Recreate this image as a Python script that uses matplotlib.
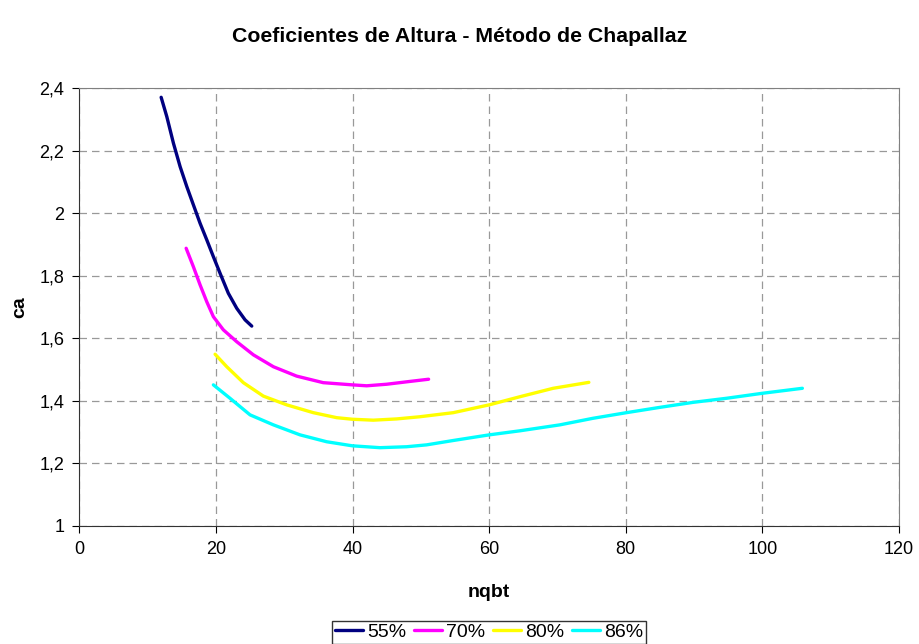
import numpy as np
import matplotlib.pyplot as plt
from matplotlib.ticker import FixedLocator, FixedFormatter

plt.rcParams['font.family'] = ['Liberation Sans', 'DejaVu Sans']

# Curves (nqbt, ca)
nq_55 = [11.96, 12.79, 13.76, 14.74, 15.72, 16.68, 17.66, 18.64, 19.61, 20.59,
         21.8, 23.03, 24.25, 25.23]
ca_55 = [2.371, 2.309, 2.224, 2.149, 2.085, 2.027, 1.968, 1.915, 1.861, 1.808,
         1.744, 1.696, 1.659, 1.639]

nq_70 = [15.62, 16.68, 17.66, 18.64, 19.61, 21.07, 23.03, 25.47, 28.4, 31.8,
         35.7, 39.95, 42.06, 44.99, 48.4, 51.13]
ca_70 = [1.888, 1.829, 1.771, 1.717, 1.669, 1.627, 1.589, 1.547, 1.509, 1.479,
         1.458, 1.451, 1.448, 1.453, 1.462, 1.469]

nq_80 = [19.86, 21.57, 24.0, 26.93, 30.35, 34.25, 37.67, 39.95, 43.03, 46.45,
         49.86, 54.74, 60.0, 64.5, 69.37, 74.6]
ca_80 = [1.549, 1.509, 1.458, 1.415, 1.387, 1.362, 1.346, 1.341, 1.338, 1.342,
         1.349, 1.362, 1.387, 1.413, 1.44, 1.459]

nq_86 = [19.61, 22.05, 24.98, 28.4, 32.3, 36.2, 39.95, 44.0, 47.9, 50.84,
         54.74, 60.0, 64.5, 70.35, 75.2, 80.1, 85.0, 89.86, 94.74, 100.0, 105.87]
ca_86 = [1.451, 1.408, 1.355, 1.323, 1.291, 1.269, 1.256, 1.25, 1.253, 1.259,
         1.273, 1.291, 1.304, 1.323, 1.344, 1.362, 1.379, 1.395, 1.408, 1.424, 1.44]

series_labels = ['55%', '70%', '80%', '86%']
series_colors = ['#000080', '#FF00FF', '#FFFF00', '#00FFFF']

x_ticks = [0, 20, 40, 60, 80, 100, 120]
y_ticks = [1.0, 1.2, 1.4, 1.6, 1.8, 2.0, 2.2, 2.4]
y_tick_labels = ['1', '1,2', '1,4', '1,6', '1,8', '2', '2,2', '2,4']

fig = plt.figure(figsize=(9.2, 6.44), dpi=100)
ax = fig.add_axes([0.0864, 0.1835, 0.8906, 0.6795])

curves = [(nq_55, ca_55), (nq_70, ca_70), (nq_80, ca_80), (nq_86, ca_86)]
for (xs, ys), lab, col in zip(curves, series_labels, series_colors):
    ax.plot(xs, ys, color=col, linewidth=2.4, label=lab,
            solid_capstyle='round', solid_joinstyle='round')

ax.set_xlim(0, 120)
ax.set_ylim(1, 2.4)
ax.xaxis.set_major_locator(FixedLocator(x_ticks))
ax.yaxis.set_major_locator(FixedLocator(y_ticks))
ax.yaxis.set_major_formatter(FixedFormatter(y_tick_labels))

ax.grid(True, color='#999999', linestyle=(0, (6, 4)), linewidth=0.9)
ax.set_axisbelow(True)
for side in ['top', 'right']:
    ax.spines[side].set_color('#808080')
for side in ['left', 'bottom']:
    ax.spines[side].set_color('#333333')
ax.tick_params(direction='out', length=5, labelsize=13, pad=6)

ax.set_xlabel('nqbt', fontsize=14, fontweight='bold', labelpad=19)
ax.set_ylabel('ca', fontsize=14, fontweight='bold', labelpad=8)
fig.suptitle('Coeficientes de Altura - Método de Chapallaz',
             fontsize=15.3, fontweight='bold', y=0.958)

leg = fig.legend(loc='lower center', bbox_to_anchor=(0.5315, 0.0), ncol=4,
                 fontsize=14, frameon=True, fancybox=False, edgecolor='black',
                 handlelength=1.45, handletextpad=0.2, columnspacing=0.4,
                 borderpad=0.15, borderaxespad=0.0)
leg.get_frame().set_linewidth(1.0)

fig.savefig('out.png', dpi=100)
